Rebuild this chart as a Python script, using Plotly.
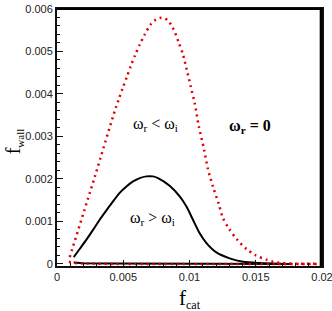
import plotly.graph_objects as go

# Red dotted curve (omega_r < omega_i)
red_x = [0.00096, 0.00285, 0.00441, 0.00468, 0.00496, 0.00526, 0.00556, 0.00589, 0.00624,
         0.00662, 0.00705, 0.00737, 0.00775, 0.00815, 0.00845, 0.0087, 0.0089, 0.0092,
         0.0095, 0.0098, 0.0101, 0.0104, 0.0107, 0.0111, 0.0114, 0.0118, 0.0122, 0.0125,
         0.0130, 0.0136, 0.0143, 0.0150, 0.0158, 0.0163, 0.0169, 0.0180, 0.0197]
red_y = [0.00016, 0.00205, 0.00365, 0.00389, 0.00414, 0.00439, 0.00465, 0.00491, 0.00516,
         0.0054, 0.00563, 0.00573, 0.00579, 0.00578, 0.0057, 0.00558, 0.00545, 0.0052,
         0.00494, 0.00456, 0.00417, 0.00377, 0.00324, 0.00269, 0.00222, 0.00179, 0.00142, 0.0011,
         0.00082, 0.00057, 0.00035, 0.0002, 0.0001, 0.00005, 0.00002, 0.000005, 0.0]

# Black solid curve (omega_r > omega_i)
blk_x = [0.00126, 0.00171, 0.00222, 0.00272, 0.00322, 0.00373, 0.00423, 0.00473, 0.00524,
         0.00574, 0.00624, 0.00675, 0.00725, 0.00762, 0.0085, 0.00926, 0.00977, 0.01026,
         0.01077, 0.01128, 0.01203, 0.01303, 0.01404, 0.0153, 0.0167, 0.0177]
blk_y = [0.00016, 0.00035, 0.00057, 0.0008, 0.00104, 0.00126, 0.00147, 0.00167, 0.00182,
         0.00194, 0.00202, 0.00206, 0.00206, 0.00202, 0.00184, 0.00159, 0.00135, 0.00104,
         0.00072, 0.00049, 0.00027, 0.00013, 0.00005, 0.00002, 0.000005, 0.0]

# Near-zero curves (omega_r = 0)
red0_x = [0.0009, 0.0012, 0.002, 0.004, 0.008, 0.012, 0.016, 0.0197]
red0_y = [0.00005, 0.00002, 0.00001, 0.0, 0.0, 0.0, 0.0, 0.0]
blk0_x = [0.00126, 0.0015, 0.002, 0.004, 0.008, 0.012, 0.016, 0.0177]
blk0_y = [0.00003, 0.00002, 0.000015, 0.00001, 0.000005, 0.0, 0.0, 0.0]

x_ticks = [0, 0.005, 0.01, 0.015, 0.02]
x_ticktext = ["0", "0.005", "0.01", "0.015", "0.02"]
y_ticks = [0, 0.001, 0.002, 0.003, 0.004, 0.005, 0.006]
y_ticktext = ["0", "0.001", "0.002", "0.003", "0.004", "0.005", "0.006"]

labels = ["ω<sub>r</sub> &lt; ω<sub>i</sub>", "<b>ω<sub>r</sub> = 0</b>", "ω<sub>r</sub> &gt; ω<sub>i</sub>"]
label_x = [0.0074, 0.0146, 0.0072]
label_y = [0.00328, 0.00323, 0.00108]

x_title = "f<sub><span style='font-size:12px'>cat</span></sub>"
y_title = "f<sub><span style='font-size:11px'>wall</span></sub>"

fig = go.Figure()
fig.add_trace(go.Scatter(x=blk0_x, y=blk0_y, mode="lines",
                         line=dict(color="black", width=2), showlegend=False))
fig.add_trace(go.Scatter(x=blk_x, y=blk_y, mode="lines", line_shape="spline",
                         line=dict(color="black", width=2, smoothing=0.8), showlegend=False))
fig.add_trace(go.Scatter(x=red0_x, y=red0_y, mode="lines",
                         line=dict(color="#e00000", width=2.5, dash="2px,4px"), showlegend=False))
fig.add_trace(go.Scatter(x=red_x, y=red_y, mode="lines", line_shape="spline",
                         line=dict(color="#e00000", width=2.5, dash="2px,4px", smoothing=0.8),
                         showlegend=False))

for t, lx, ly in zip(labels, label_x, label_y):
    fig.add_annotation(x=lx, y=ly, text=t, showarrow=False,
                       font=dict(family="Liberation Serif", size=16, color="black"))

# axis titles as annotations for precise placement
fig.add_annotation(xref="paper", yref="paper", x=0.5, y=0, yshift=-33, text=x_title,
                   showarrow=False, yanchor="middle",
                   font=dict(family="Liberation Serif", size=21, color="black"))
fig.add_annotation(xref="paper", yref="paper", x=0, y=0.485, xshift=-43, text=y_title,
                   textangle=-90, showarrow=False, xanchor="center",
                   font=dict(family="Liberation Serif", size=20, color="black"))

# right edge of the frame drawn explicitly
fig.add_shape(type="line", xref="paper", yref="paper", x0=0.996, x1=0.996, y0=0, y1=1,
              line=dict(color="black", width=2.5), layer="above")
fig.add_shape(type="line", xref="paper", yref="paper", x0=0, x1=1, y0=1, y1=1,
              line=dict(color="black", width=2), layer="above")

axis_common = dict(showline=True, linewidth=2, linecolor="#111", mirror=True,
                   ticks="inside", ticklen=6, tickwidth=1, tickcolor="#111",
                   showgrid=False, zeroline=False, automargin=False,
                   ticklabeloverflow="allow",
                   tickfont=dict(family="Liberation Sans", size=11, color="#222"))

fig.update_xaxes(range=[0, 0.02], tickvals=x_ticks, ticktext=x_ticktext,
                 minor=dict(ticks="inside", ticklen=3, dtick=0.001, tickcolor="#111"),
                 **axis_common)
fig.update_yaxes(range=[-0.00005, 0.006], tickvals=y_ticks, ticktext=y_ticktext,
                 minor=dict(ticks="inside", ticklen=3, dtick=0.0002, tickcolor="#111"),
                 **axis_common)

fig.update_layout(width=332, height=311, margin=dict(l=57, r=10, t=9, b=45),
                  plot_bgcolor="white", paper_bgcolor="white")

fig.write_html("out.html", config={"displayModeBar": False},
               post_script="document.documentElement.style.overflow='hidden';"
                           "document.body.style.margin='0px';document.body.style.overflow='hidden';")
